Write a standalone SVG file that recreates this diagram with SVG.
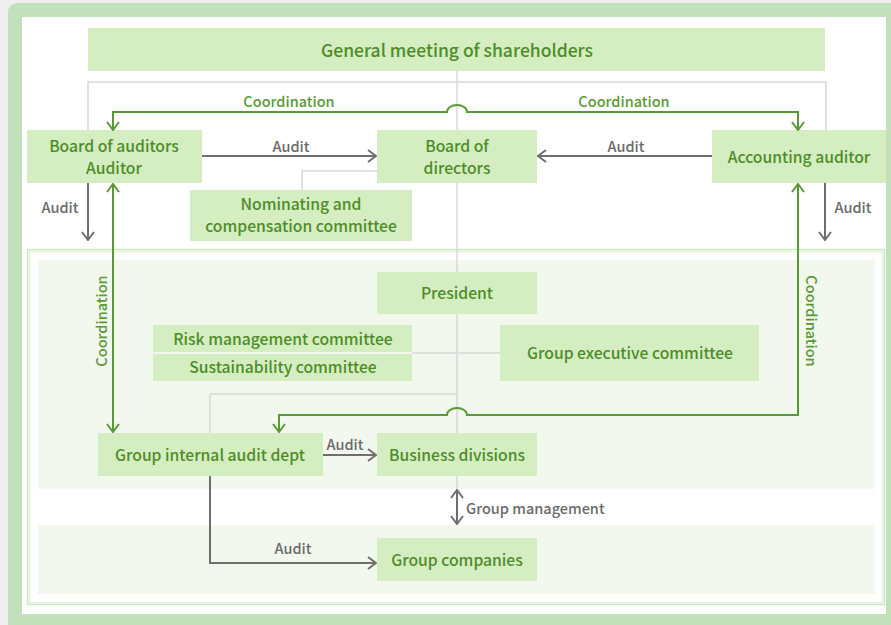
<svg xmlns="http://www.w3.org/2000/svg" width="891" height="625" viewBox="0 0 891 625">
<defs>
<style>
.box{fill:#d4edc1}
.t{font-family:"Noto Sans CJK JP","Noto Sans",sans-serif;font-size:15.7px;font-weight:500;fill:#4e8c28;text-anchor:middle;dominant-baseline:central}
.big{font-size:17.5px}
.lg{font-family:"Noto Sans CJK JP","Noto Sans",sans-serif;font-size:14.5px;font-weight:500;fill:#5a9a35;text-anchor:middle;dominant-baseline:central}
.la{font-family:"Noto Sans CJK JP","Noto Sans",sans-serif;font-size:14.5px;font-weight:500;fill:#6a6a6a;text-anchor:middle;dominant-baseline:central}
.thin{fill:none;stroke:#d8d8d8;stroke-width:1.5}
.green{fill:none;stroke:#5a9a35;stroke-width:2}
.gray{fill:none;stroke:#6e6e6e;stroke-width:2}
</style>
<marker id="ag" viewBox="0 0 10 14" refX="9" refY="7" markerWidth="10" markerHeight="14" markerUnits="userSpaceOnUse" orient="auto-start-reverse">
<path d="M1,1 L9,7 L1,13" fill="none" stroke="#5a9a35" stroke-width="2"/>
</marker>
<marker id="ay" viewBox="0 0 10 14" refX="9" refY="7" markerWidth="10" markerHeight="14" markerUnits="userSpaceOnUse" orient="auto-start-reverse">
<path d="M1,1 L9,7 L1,13" fill="none" stroke="#6e6e6e" stroke-width="2"/>
</marker>
</defs>
<rect x="0" y="0" width="891" height="625" fill="#efefef"/>
<rect x="8" y="3" width="900" height="640" rx="9" fill="#c2e0bb"/>
<rect x="22" y="17" width="864" height="597" fill="#ffffff"/>
<rect x="27.5" y="249.5" width="857" height="355" fill="none" stroke="#cbe7bf" stroke-width="1.5"/>
<rect x="29.5" y="251.5" width="853" height="351" fill="none" stroke="#e3f2da" stroke-width="1.5"/>
<rect x="38" y="260" width="837" height="229" fill="#f2f8ee"/>
<rect x="38" y="525" width="837" height="69" fill="#f2f8ee"/>

<g id="lines">
<path class="thin" d="M88,130 V82 H826 V130"/>
<path class="thin" d="M457,71 V490"/>
<path class="thin" d="M302,190 V171 H377"/>
<path class="thin" d="M412,353 H500"/>
<path class="thin" d="M210,433 V394 H457"/>
</g>

<g id="n-gms"><rect class="box" x="88" y="28" width="737" height="43"/><text class="t big" x="457" y="49">General meeting of shareholders</text></g>
<g id="n-boa"><rect class="box" x="27" y="130" width="175" height="53"/><text class="t" x="114" y="145">Board of auditors</text><text class="t" x="114" y="167">Auditor</text></g>
<g id="n-bod"><rect class="box" x="377" y="130" width="160" height="53"/><text class="t" x="457" y="145">Board of</text><text class="t" x="457" y="167">directors</text></g>
<g id="n-acc"><rect class="box" x="712" y="130" width="174" height="53"/><text class="t" x="799" y="156">Accounting auditor</text></g>
<g id="n-nom"><rect class="box" x="190" y="190" width="222" height="51"/><text class="t" x="301" y="203">Nominating and</text><text class="t" x="301" y="225">compensation committee</text></g>
<g id="n-pres"><rect class="box" x="377" y="272" width="160" height="42"/><text class="t" x="457" y="292">President</text></g>
<g id="n-risk"><rect class="box" x="153" y="325" width="259" height="27"/><text class="t" x="283" y="338">Risk management committee</text></g>
<g id="n-sus"><rect class="box" x="153" y="354" width="259" height="27"/><text class="t" x="283" y="366">Sustainability committee</text></g>
<g id="n-gec"><rect class="box" x="500" y="325" width="259" height="56"/><text class="t" x="630" y="352">Group executive committee</text></g>
<g id="n-gia"><rect class="box" x="98" y="433" width="225" height="43"/><text class="t" x="210" y="454">Group internal audit dept</text></g>
<g id="n-bd"><rect class="box" x="377" y="433" width="160" height="43"/><text class="t" x="457" y="454">Business divisions</text></g>
<g id="n-gc"><rect class="box" x="377" y="538" width="160" height="43"/><text class="t" x="457" y="559">Group companies</text></g>

<g id="connectors">
<path class="green" d="M113,130 V112 H447 A10,7 0 0 1 467,112 H798 V130" marker-start="url(#ag)" marker-end="url(#ag)"/>
<path class="green" d="M113,184 V432" marker-start="url(#ag)" marker-end="url(#ag)"/>
<path class="green" d="M798,184 V415 H467 A10,7 0 0 0 447,415 H279 V432" marker-start="url(#ag)" marker-end="url(#ag)"/>
<path class="gray" d="M202,156 H376" marker-end="url(#ay)"/>
<path class="gray" d="M712,156 H538" marker-end="url(#ay)"/>
<path class="gray" d="M88,183 V240" marker-end="url(#ay)"/>
<path class="gray" d="M825,183 V240" marker-end="url(#ay)"/>
<path class="gray" d="M323,455 H376" marker-end="url(#ay)"/>
<path class="gray" d="M210,476 V563 H376" marker-end="url(#ay)"/>
<path class="gray" d="M457,490 V524" marker-start="url(#ay)" marker-end="url(#ay)"/>
<text class="lg" x="289" y="100">Coordination</text>
<text class="lg" x="624" y="100">Coordination</text>
<text class="lg" transform="translate(100,321) rotate(-90)" x="0" y="0">Coordination</text>
<text class="lg" transform="translate(812,321) rotate(90)" x="0" y="0">Coordination</text>
<text class="la" x="291" y="145">Audit</text>
<text class="la" x="626" y="145">Audit</text>
<text class="la" x="60" y="206">Audit</text>
<text class="la" x="853" y="206">Audit</text>
<text class="la" x="345" y="443">Audit</text>
<text class="la" x="293" y="547">Audit</text>
<text class="la" x="466" y="507" style="text-anchor:start">Group management</text>
</g>
</svg>
